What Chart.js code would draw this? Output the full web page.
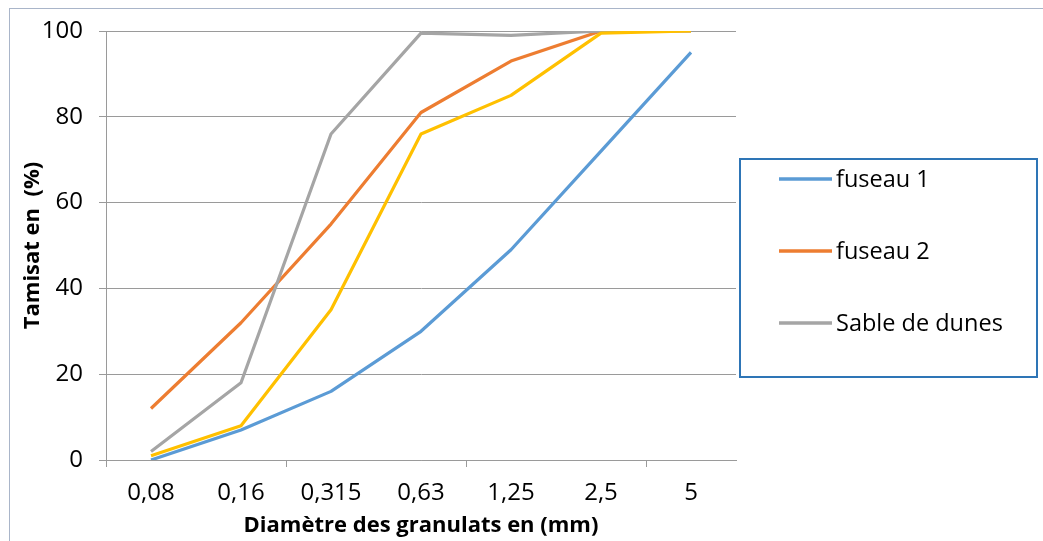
<!DOCTYPE html>
<html>
<head>
<meta charset="utf-8">
<script src="https://cdn.jsdelivr.net/npm/chart.js@4/dist/chart.umd.min.js"></script>
<style>
  html, body { margin: 0; padding: 0; background: #fff; }
  #wrap { width: 1043px; height: 541px; }
</style>
</head>
<body>
<div id="wrap"><canvas id="chart"></canvas></div>
<script>
// sieve sizes (mm) and passing percentages
const diameters = ["0,08", "0,16", "0,315", "0,63", "1,25", "2,5", "5"];
const fuseau1 = [0, 7, 16, 30, 49, 72, 95];
const fuseau2 = [12, 32, 55, 81, 93, 100, 100];
const sableDunes = [2, 18, 76, 99.5, 99, 100, 100];
const melange = [1, 8, 35, 76, 85, 99.5, 100];
const yTicks = [0, 20, 40, 60, 80, 100];

const gridGray = "#9a9a9a";
const fontFamily = "'Open Sans', 'Noto Sans', sans-serif";

// outer frame of the chart object
const frame = {
  id: "frame",
  beforeDraw(chart) {
    const ctx = chart.ctx;
    ctx.save();
    ctx.fillStyle = "#fff";
    ctx.fillRect(0, 0, chart.width, chart.height);
    ctx.strokeStyle = "#a9b5c9";
    ctx.lineWidth = 1;
    ctx.strokeRect(9.5, 8.5, chart.width + 20, chart.height + 20);
    ctx.restore();
  }
};

// boxed legend on the right, only labelled series
const boxedLegend = {
  id: "boxedLegend",
  afterDraw(chart) {
    const ctx = chart.ctx;
    const x0 = chart.chartArea.right + 4, y0 = 159, w = 297, h = 218;
    ctx.save();
    ctx.strokeStyle = "#2e75b6";
    ctx.lineWidth = 2;
    ctx.strokeRect(x0, y0, w, h);
    ctx.font = "23.5px " + fontFamily;
    ctx.textBaseline = "middle";
    let y = y0 + 20;
    chart.data.datasets.forEach(ds => {
      if (!ds.label) return;
      ctx.strokeStyle = ds.borderColor;
      ctx.lineWidth = 3.5;
      ctx.beginPath();
      ctx.moveTo(x0 + 39, y);
      ctx.lineTo(x0 + 92, y);
      ctx.stroke();
      ctx.fillStyle = "#000";
      ctx.fillText(ds.label, x0 + 96, y + 1);
      y += 72;
    });
    ctx.restore();
  }
};

const series = (label, data, color, order) => ({
  label: label,
  data: data,
  borderColor: color,
  backgroundColor: color,
  borderWidth: 3.2,
  pointRadius: 0,
  tension: 0,
  borderJoinStyle: "round",
  order: order
});

const ctx = document.getElementById("chart").getContext("2d");
const chart = new Chart(ctx, {
  type: "line",
  data: {
    labels: diameters,
    datasets: [
      series("fuseau 1", fuseau1, "#5b9bd5", 3),
      series("fuseau 2", fuseau2, "#ed7d31", 2),
      series("Sable de dunes", sableDunes, "#a5a5a5", 1),
      series("", melange, "#ffc000", 0)
    ]
  },
  options: {
    responsive: true,
    maintainAspectRatio: false,
    animation: false,
    layout: { padding: { top: 31, right: 307, bottom: 0, left: 0 } },
    plugins: {
      legend: { display: false },
      tooltip: { enabled: false }
    },
    scales: {
      x: {
        offset: true,
        grid: {
          offset: true,
          drawOnChartArea: false,
          tickLength: 7,
          tickColor: c => (c.index % 2 === 0 ? gridGray : "rgba(0,0,0,0)")
        },
        border: { color: gridGray, width: 1 },
        ticks: {
          color: "#000",
          font: { family: fontFamily, size: 24 },
          padding: 12,
          maxRotation: 0,
          autoSkip: false
        },
        title: {
          display: true,
          text: "Diamètre des granulats en (mm)",
          color: "#000",
          font: { family: fontFamily, size: 22, weight: "bold" },
          padding: { top: 0, bottom: 2 }
        },
        afterFit(scale) { scale.height = 81; }
      },
      y: {
        min: 0,
        max: 100,
        afterBuildTicks(scale) { scale.ticks = yTicks.map(v => ({ value: v })); },
        grid: { color: gridGray, tickLength: 7 },
        border: { color: gridGray, width: 1 },
        ticks: {
          color: "#000",
          font: { family: fontFamily, size: 24 },
          padding: 16
        },
        title: {
          display: true,
          text: "Tamisat en  (%)",
          color: "#000",
          font: { family: fontFamily, size: 22, weight: "bold" },
          padding: { top: 20, bottom: 0 }
        },
        afterFit(scale) { scale.width = 106; }
      }
    }
  },
  plugins: [frame, boxedLegend]
});
</script>
</body>
</html>
